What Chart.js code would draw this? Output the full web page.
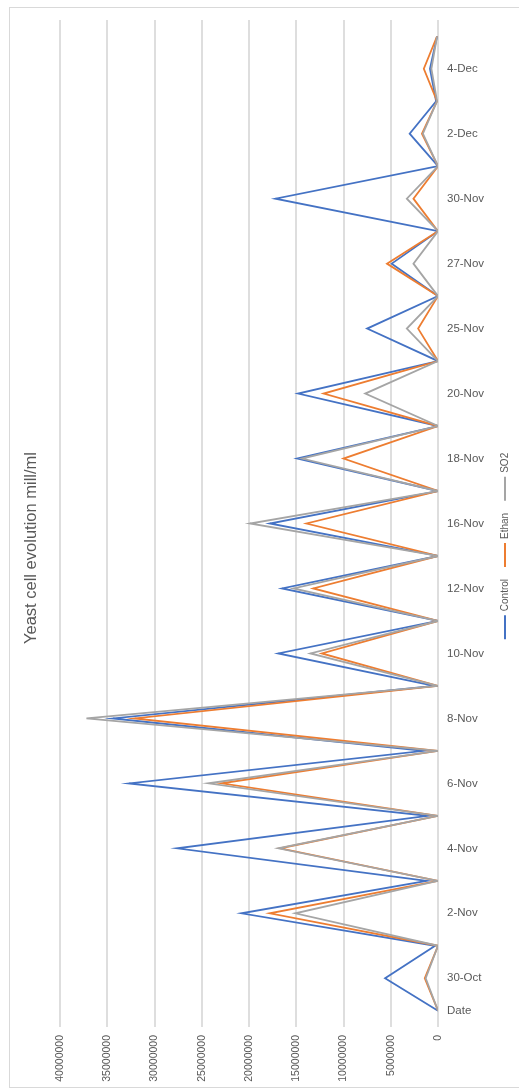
<!DOCTYPE html>
<html>
<head>
<meta charset="utf-8">
<script src="https://cdn.jsdelivr.net/npm/chart.js@4.4.1/dist/chart.umd.min.js"></script>
<style>
  html, body { margin: 0; padding: 0; background: #fff; }
  canvas { display: block; }
</style>
</head>
<body>
<canvas id="yeast" width="519" height="1090"></canvas>
<script>
// rows as in the sheet: every date row is followed by an empty row
const dates = ['Date', '30-Oct', '', '2-Nov', '', '4-Nov', '', '6-Nov', '', '8-Nov', '',
  '10-Nov', '', '12-Nov', '', '16-Nov', '', '18-Nov', '', '20-Nov', '',
  '25-Nov', '', '27-Nov', '', '30-Nov', '', '2-Dec', '', '4-Dec', '']

const control = [0, 5600000, 300000, 20800000, 1200000, 27600000, 1100000, 32700000, 1500000, 34400000, 400000,
  16900000, 0, 16500000, 0, 17800000, 0, 14900000, 0, 14800000, 0,
  7500000, 0, 4900000, 0, 17200000, 0, 3000000, 200000, 850000, 100000]
const ethan = [0, 1400000, 0, 17800000, 0, 16700000, 0, 22900000, 0, 32100000, 0,
  12300000, 0, 13200000, 0, 13900000, 0, 10000000, 0, 12100000, 0,
  2100000, 0, 5400000, 0, 2600000, 0, 1700000, 100000, 1500000, 100000]
const so2 = [0, 1300000, 0, 15100000, 0, 16900000, 0, 24300000, 0, 37200000, 0,
  13500000, 0, 15300000, 0, 19900000, 0, 14400000, 0, 7700000, 0,
  3300000, 0, 2600000, 0, 3300000, 0, 1600000, 100000, 700000, 100000]

const seriesNames = ['Control', 'Ethan', 'SO2']
const seriesColors = ['#4472c4', '#ed7d31', '#a5a5a5']
const valueMax = 40000000
const valueStep = 5000000
const titleText = 'Yeast cell evolution mill/ml'

const textColor = '#595959'
const fontFamily = '"Liberation Sans", Arial, sans-serif'

Chart.defaults.font.family = fontFamily
Chart.defaults.color = textColor

// the whole chart is turned on its side, so title and legend are drawn by hand
const sideText = {
  id: 'sideText',
  beforeDraw(chart) {
    const ctx = chart.ctx
    ctx.save()
    ctx.strokeStyle = '#d9d9d9'
    ctx.lineWidth = 1
    ctx.strokeRect(9.5, 7.5, 600, 1080)
    ctx.restore()
  },
  afterDraw(chart) {
    const ctx = chart.ctx
    ctx.save()
    ctx.fillStyle = textColor
    ctx.textBaseline = 'middle'

    ctx.save()
    ctx.translate(31, 548)
    ctx.rotate(-Math.PI / 2)
    ctx.font = '16.5px ' + fontFamily
    ctx.textAlign = 'center'
    ctx.fillText(titleText, 0, 0)
    ctx.restore()

    ctx.translate(505, 546)
    ctx.rotate(-Math.PI / 2)
    ctx.font = '10px ' + fontFamily
    ctx.textAlign = 'left'
    const sample = 24, gap = 4, between = 12
    const widths = seriesNames.map(n => ctx.measureText(n).width)
    const total = widths.reduce((a, w) => a + sample + gap + w, 0) + between * (seriesNames.length - 1)
    let x = -total / 2
    seriesNames.forEach((name, i) => {
      ctx.strokeStyle = seriesColors[i]
      ctx.lineWidth = 2
      ctx.beginPath()
      ctx.moveTo(x, 0)
      ctx.lineTo(x + sample, 0)
      ctx.stroke()
      ctx.fillText(name, x + sample + gap, 0)
      x += sample + gap + widths[i] + between
    })
    ctx.restore()
  }
}

const seriesData = [control, ethan, so2]

new Chart(document.getElementById('yeast'), {
  type: 'line',
  data: {
    labels: dates,
    datasets: seriesNames.map((name, i) => ({
      label: name,
      data: seriesData[i],
      borderColor: seriesColors[i],
      backgroundColor: seriesColors[i],
      borderWidth: 1.8,
      pointRadius: 0,
      tension: 0,
      order: seriesNames.length - i,
    }))
  },
  options: {
    indexAxis: 'y',
    responsive: false,
    animation: false,
    layout: { padding: { left: 60, top: 20, right: 0, bottom: 0 } },
    plugins: {
      legend: { display: false },
      title: { display: false },
      tooltip: { enabled: false },
    },
    scales: {
      x: {
        type: 'linear',
        position: 'bottom',
        reverse: true,
        min: 0,
        max: valueMax,
        grid: { color: '#dedede', lineWidth: 2, drawTicks: false },
        border: { display: false },
        afterFit: scale => { scale.height = 63 },
        ticks: {
          stepSize: valueStep,
          minRotation: 90,
          maxRotation: 90,
          padding: 8,
          font: { size: 10.5 },
          callback: v => String(v),
        }
      },
      y: {
        type: 'category',
        position: 'right',
        reverse: true,
        offset: true,
        grid: { display: false },
        border: { display: false },
        afterFit: scale => { scale.width = 81 },
        ticks: {
          autoSkip: false,
          padding: 1,
          font: { size: 11.5 },
        }
      }
    }
  },
  plugins: [sideText]
})
</script>
</body>
</html>
